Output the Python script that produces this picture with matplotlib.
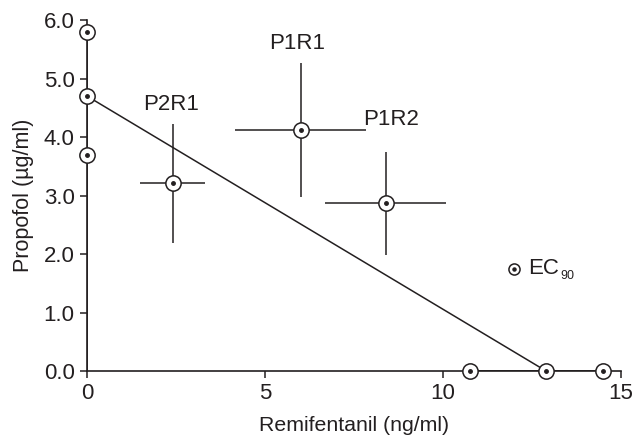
import numpy as np
import matplotlib.pyplot as plt

plt.rcParams['font.family'] = ['Liberation Sans', 'DejaVu Sans']

# datos
rem_ec = [0, 0, 0, 10.75, 12.9, 14.5]
prop_ec = [5.8, 4.7, 3.7, 0.0, 0.0, 0.0]

grupos = ['P2R1', 'P1R1', 'P1R2']
rem_m = [2.4, 6.0, 8.4]
rem_sd = [0.92, 1.83, 1.7]
prop_m = [3.21, 4.12, 2.87]
prop_sd = [1.02, 1.15, 0.88]

# isobolo
iso_x = [0, 12.9]
iso_y = [4.7, 0.0]

col = '#231f20'
fs = 16

fig = plt.figure(figsize=(6.36, 4.38), dpi=100)
ax = fig.add_axes([0.137, 0.153, 0.839, 0.801])

ax.plot(iso_x, iso_y, color=col, lw=1.1)
ax.plot([0, 0], [0, max(prop_ec)], color=col, lw=1.3)
ax.plot([rem_ec[3], rem_ec[5]], [0, 0], color=col, lw=1.4)

ax.errorbar(rem_m, prop_m, xerr=rem_sd, yerr=prop_sd, fmt='none', ecolor=col, elinewidth=1.1, capsize=0)

todos_x = rem_ec + rem_m
todos_y = prop_ec + prop_m
ax.plot(todos_x, todos_y, 'o', ms=11, mfc='white', mec=col, mew=1.1, clip_on=False, zorder=5)
ax.plot(todos_x, todos_y, 'o', ms=2.5, color=col, clip_on=False, zorder=6)

etiquetas_pos = [(2.35, 4.55), (5.9, 5.6), (8.55, 4.3)]
for g, (tx, ty) in zip(grupos, etiquetas_pos):
    ax.text(tx, ty, g, ha='center', va='center', fontsize=fs, color=col)

# leyenda EC90
ax.plot([12.0], [1.75], 'o', ms=8, mfc='white', mec=col, mew=1.1, zorder=5)
ax.plot([12.0], [1.75], 'o', ms=2.2, color=col, zorder=6)
ax.text(12.4, 1.75, 'EC', ha='left', va='center', fontsize=fs, color=col)
ax.text(13.3, 1.62, '90', ha='left', va='center', fontsize=9, color=col)

ax.set_xlim(0, 15)
ax.set_ylim(0, 6.0)
ax.set_xticks([0, 5, 10, 15])
ax.set_yticks(np.arange(0, 6.1, 1.0))
ax.set_yticklabels([f'{v:.1f}' for v in np.arange(0, 6.1, 1.0)])
ax.set_xlabel('Remifentanil (ng/ml)', fontsize=15.3, color=col)
ax.set_ylabel('Propofol (µg/ml)', fontsize=15.5, color=col)
ax.xaxis.set_label_coords(0.5, -0.128)
ax.yaxis.set_label_coords(-0.099, 0.5)
ax.tick_params(colors=col, labelsize=fs, length=5, width=1.1, direction='out', pad=4)
for s in ['top', 'right']:
    ax.spines[s].set_visible(False)
for s in ['left', 'bottom']:
    ax.spines[s].set_color(col)
    ax.spines[s].set_linewidth(1.2)

plt.savefig('out.png', dpi=100)
